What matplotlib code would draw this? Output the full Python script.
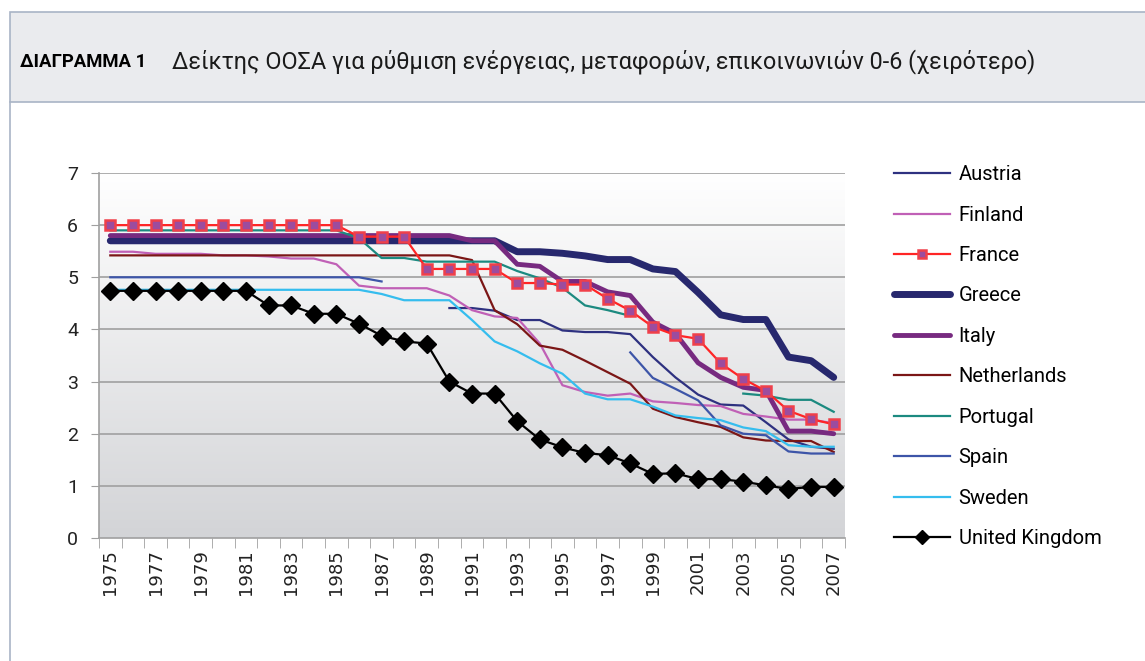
import numpy as np
import matplotlib.pyplot as plt
from matplotlib.patches import Rectangle
from matplotlib.lines import Line2D

# data (nan = no value)
nan = np.nan
years = list(range(1975, 2008))

austria = [nan]*15 + [4.41, 4.41, 4.36, 4.18, 4.18, 3.98, 3.95, 3.95, 3.91, 3.47,
                      3.08, 2.75, 2.56, 2.54, 2.22, 1.89, 1.75, 1.71]
finland = [5.49, 5.49, 5.45, 5.45, 5.45, 5.42, 5.42, 5.40, 5.36, 5.36, 5.25, 4.84,
           4.79, 4.79, 4.79, 4.65, 4.37, 4.25, 4.22, 3.73, 2.93, 2.80, 2.73, 2.77,
           2.62, 2.59, 2.55, 2.53, 2.38, 2.33, 2.27, 2.27, 2.20]
france = [6.0]*11 + [5.78]*3 + [5.16]*4 + [4.89, 4.89, 4.86, 4.86, 4.59, 4.36, 4.05,
                                           3.89, 3.82, 3.35, 3.05, 2.82, 2.44, 2.28, 2.18]
greece = [5.7]*18 + [5.49, 5.49, 5.46, 5.41, 5.34, 5.34, 5.16, 5.11, 4.71, 4.28,
                     4.19, 4.19, 3.47, 3.40, 3.08]
italy = [5.8]*16 + [5.7, 5.7, 5.25, 5.21, 4.92, 4.92, 4.72, 4.65, 4.14, 3.92, 3.36,
                    3.08, 2.89, 2.83, 2.05, 2.05, 2.0]
netherlands = [5.42]*16 + [5.33, 4.37, 4.10, 3.69, 3.61, 3.40, 3.18, 2.96, 2.48, 2.32,
                           2.22, 2.13, 1.93, 1.87, 1.86, 1.86, 1.65]
portugal = [5.9]*11 + [5.75, 5.37, 5.37, 5.3, 5.3, 5.3, 5.3, 5.12, 4.98, 4.8, 4.46,
                       4.37, 4.26] + [nan]*4 + [2.77, 2.73, 2.65, 2.65, 2.42]
spain = [5.0]*12 + [4.92] + [nan]*10 + [3.56, 3.07, 2.86, 2.64, 2.16, 2.0, 1.97,
                                        1.66, 1.62, 1.62]
sweden = [4.76]*12 + [4.68, 4.56, 4.56, 4.56, 4.18, 3.77, 3.58, 3.35, 3.15, 2.77,
                      2.66, 2.66, 2.52, 2.35, 2.30, 2.26, 2.12, 2.05, 1.78, 1.75, 1.75]
uk = [4.74]*7 + [4.46, 4.46, 4.30, 4.30, 4.11, 3.88, 3.77, 3.73, 3.0, 2.77, 2.77, 2.24,
                 1.89, 1.74, 1.63, 1.59, 1.43, 1.23, 1.24, 1.13, 1.13, 1.08, 1.01, 0.94,
                 0.98, 0.98]

W, H = 1145, 661
fig = plt.figure(figsize=(W/100, H/100), dpi=100)
narrow = ['Roboto', 'DejaVu Sans']

def fx(px):
    return px / W

def fy(py):
    return 1 - py / H

# frame and title band
border = '#A9B4C6'
fig.add_artist(Rectangle((fx(10), fy(102)), fx(W - 10) + 0.01, 90/H, transform=fig.transFigure,
                         facecolor='#EAEBEE', edgecolor=border, lw=1.2))
fig.add_artist(Line2D([fx(10), fx(10)], [fy(102), 0], transform=fig.transFigure,
                      color=border, lw=1.2))
fig.text(fx(20), fy(62), 'ΔΙΑΓΡΑΜΜΑ 1', fontsize=13.3, fontweight='bold',
         family=narrow, va='center', ha='left')
fig.text(fx(172), fy(62), 'Δείκτης ΟΟΣΑ για ρύθμιση ενέργειας, μεταφορών, επικοινωνιών 0-6 (χειρότερο)',
         fontsize=16.8, family=narrow, va='center', ha='left', color='#1a1a1a')

ax = fig.add_axes([fx(99), fy(538), fx(845) - fx(99), fy(173) - fy(538)])
x = np.arange(len(years))

# gradient background
grad = np.linspace(1, 0, 256).reshape(-1, 1)
top = np.array([1.0, 1.0, 1.0])
bot = np.array([0.827, 0.831, 0.843])
img = top * grad[..., None] + bot * (1 - grad[..., None])
ax.imshow(img, extent=(-0.5, 32.5, 0, 7), aspect='auto', zorder=0, origin='upper')

for v in range(1, 8):
    ax.axhline(v, color='#A0A0A0', lw=1.2, zorder=1)

ax.plot(x, austria, color='#2E3180', lw=1.6, label='Austria', zorder=2)
ax.plot(x, finland, color='#C060B6', lw=1.6, label='Finland', zorder=2)
ax.plot(x, greece, color='#27286E', lw=5, label='Greece', zorder=3, solid_capstyle='round')
ax.plot(x, italy, color='#772A80', lw=3.5, label='Italy', zorder=3.1, solid_capstyle='round')
ax.plot(x, netherlands, color='#7B1616', lw=1.6, label='Netherlands', zorder=3.2)
ax.plot(x, portugal, color='#1C8A80', lw=1.6, label='Portugal', zorder=3.3)
ax.plot(x, spain, color='#3D55A8', lw=1.6, label='Spain', zorder=3.4)
ax.plot(x, sweden, color='#35BDEE', lw=1.6, label='Sweden', zorder=3.5)
ax.plot(x, france, color='#FF2525', lw=1.6, marker='s', ms=7, mfc='#9C4C9E',
        mec='#F0404A', mew=1.8, label='France', zorder=4)
ax.plot(x, uk, color='black', lw=1.6, marker='D', ms=9, label='United Kingdom', zorder=5)

ax.set_xlim(-0.5, 32.5)
ax.set_ylim(0, 7)
ax.set_yticks(range(0, 8))
ax.tick_params(axis='y', length=6, color='#A0A0A0', labelsize=14, pad=9,
               labelcolor='#222222')
for t in ax.get_yticklabels():
    t.set_family(narrow)
ax.set_xticks(x[::2])
ax.set_xticklabels([str(y) for y in years[::2]], rotation=90, fontsize=13, color='#222222')
ax.set_xticks(np.arange(-0.5, 33, 1), minor=True)
ax.tick_params(axis='x', which='major', length=0, pad=8)
ax.tick_params(axis='x', which='minor', length=7, color='#A0A0A0')
for s in ['top', 'right']:
    ax.spines[s].set_visible(False)
for s in ['left', 'bottom']:
    ax.spines[s].set_color('#A0A0A0')
    ax.spines[s].set_linewidth(1.2)

order = ['Austria', 'Finland', 'France', 'Greece', 'Italy', 'Netherlands', 'Portugal',
         'Spain', 'Sweden', 'United Kingdom']
handles, labels = ax.get_legend_handles_labels()
hmap = dict(zip(labels, handles))
leg = fig.legend([hmap[k] for k in order], order, loc='upper left',
                 bbox_to_anchor=(fx(876), fy(147)), frameon=False,
                 prop={'family': narrow, 'size': 14.5}, handlelength=2.75,
                 labelspacing=1.065, handletextpad=0.45, markerscale=0.75)

fig.savefig('out.png', dpi=100)
